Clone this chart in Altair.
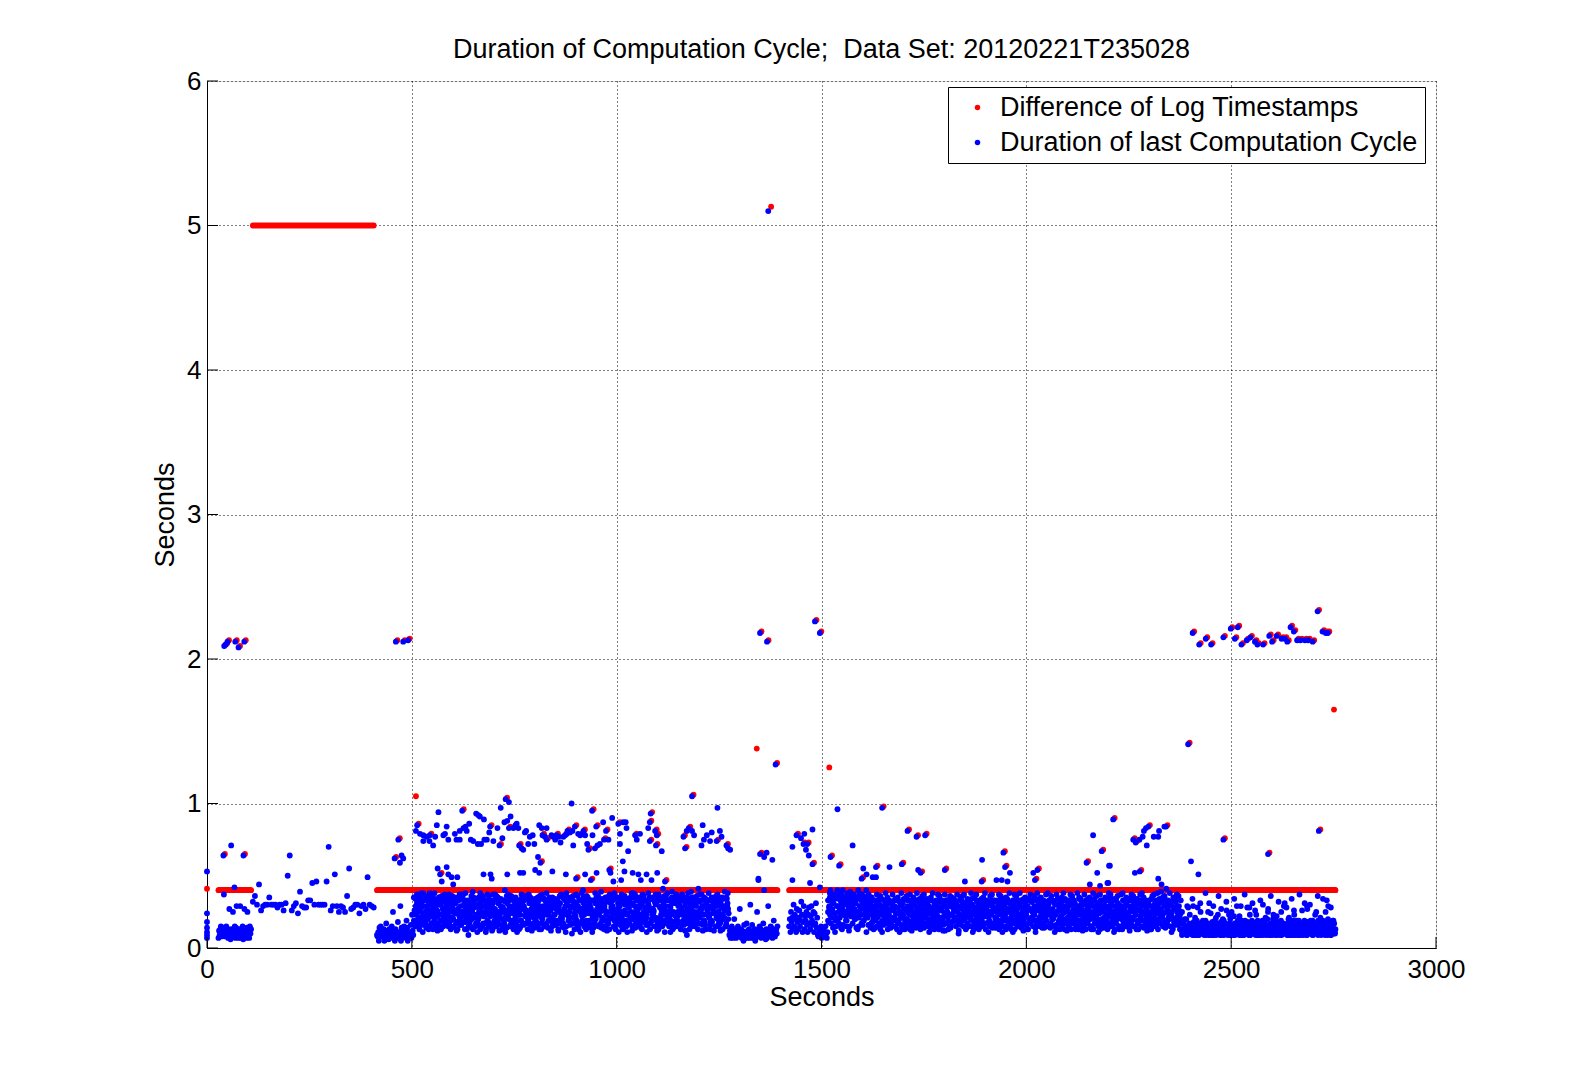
import altair as alt
import pandas as pd

TITLE = "Duration of Computation Cycle;\u00a0 Data Set: 20120221T235028"
SERIES = ["Difference of Log Timestamps", "Duration of last Computation Cycle"]
COLORS = ["#ff0000", "#0000ff"]
X_TICKS = [0, 500, 1000, 1500, 2000, 2500, 3000]
Y_TICKS = [0, 1, 2, 3, 4, 5, 6]
FONT = "Liberation Sans"

# Dense band of cycle durations, one letter per sample
# (lower-case letter -> value below, upper-case letter -> value 0.01 higher)
BAND_LETTERS = "abcdefghijklmnopqrs"
BAND_VALUES = [0.05, 0.07, 0.09, 0.11, 0.13, 0.15, 0.17, 0.19, 0.21, 0.23,
               0.25, 0.27, 0.29, 0.31, 0.33, 0.35, 0.37, 0.39, 0.41]
BAND_VALUES_UPPER = [0.06, 0.08, 0.10, 0.12, 0.14, 0.16, 0.18, 0.20, 0.22, 0.24,
                     0.26, 0.28, 0.30, 0.32, 0.34, 0.36, 0.38, 0.40, 0.42]

SEG_A = "bDcefBdcEqcBdfCebDlcAedBkcDfbEmcDbeCmbDcfAelCdbEkcDbfCe"
SEG_B = "cBdaEcfBdcBeaDcgBdcAebDcfBkdCaeBdcGbdCmaEcbDfcBdhEacBdcFbjDc"
SEG_C = ("hKfmJogLiekPnhFjmGkoEilHnfQjgMkeOhjLfnIkgpMhejOlfKigHnmJf"
         "lGoiEkmHfpJnkGeloIhmFkjqGneLhioKfmGjnHkepLifOjmgHkneLjfoI"
         "mJgdKohLfnIgkMeqJhlOfkGniDjmHokLfgRijEnkHmlOgfkJehNimGfoL"
         "eKjhOngFmlIkgPehJnoFlkMgiEohJfnLkmPgeiHjlOfkNgmEjhKoiLfgN"
         "jFhlMokDgnPijHfkElomQnjIkhFpmCogLjkInhFmeKgoJlhRnfKmePlgJ"
         "hMolFjkEignHplMfjOkgEinHlmKfjOghPeinLkmJfhOegKinLjmFhkEog"
         "nKfhJdomLgikQfnHjmEgolKihFjnMepGkoLhijFnmKegOhljKfiMnhGeq"
         "oGijKfmNldhPkjGofImhNrekGjoPfhImkNgelOjhFkmiNcgJlhoKfpMig"
         "kFjmHoegNilKqmFjhGoeNlkImjFhoGlnDkpJimHfkOgnLjeHmiKfgOnlJ")
SEG_C2 = ("gKjnHfmLiQhgJkMfnIlgHoKjfMnhIgLkjPfhMiKngJlhFqIkmGjnHlfKriMg"
          "jHlfNkgIoMhjKfLngIhOjkFmlHgNiKjfOhmLgkInJfhMlogKiHnjFkMlhIgo"
          "kIgmOfjLhnKiGmjFohLnkIgJmfOhkLgiNjHmfKolIgjNhkFmLoiHgjKnfMlh"
          "fLhjNgkPimHfKjlGnoIhkMfjLgnHiQkfJmgLhnIkjFoMglHjkNifOgLmhKjg"
          "mHkgLfoJnIhkGmlFjOnhKigMljHfNokIgjLmhFnKoiGhlJmfNkgIhOjlKfmH")
SEG_C3 = ("pOqpoQdoPoePopQoDpoPoqOoqePpoDpqOpoQecoPpoOdpQoPoeqPoDoqPpoOeodPqoPpOpdoEqoPpOqpDoOopePqOo"
          "QopDpoOoePqpOdpOooPeqPodQpoOpoEdoQpPorOepDpqOoQppdOqePoOopDpqOpoEqPodQpOpoqDeOpsPoQodpEpqO"
          "oPqoDpQerOpoPsqoDpOoQepOoPqoDpOrpQ")
SEG_D = "cDbefCbdHcebDcfBdlCebDcaFbdCgbDcebMdcFbdCeabDkcBdfCebDcgBdcAebDmcBdfEcbDhcBdeCf"
SEG_E = "fHdkGieMfjHdlGeiKfhNjdGmeIhkFdjLgeImhFkdJgnEicBdeCfbDceBdfCbd"
SEG_F = ("kGmpRiolEnqJhfpRmkOiqEnlRjpMkhfoQlnPrIkmOjqlHnEpkRimOljqFnhpKmRoilqJnEp"
         "jGmeKohLfnIkgMejOhlFkiGnmHejoKflGnihKmfJoeLghNkimFejOlhg"
         "fKmhJoeGlnIkfMhjEokGlinFmhKjoEglIknHfmJoekGlhInfKmjHoegL"
         "iKhnFmjDgoLkhInfEjmGokHlifNkmCjhGolInfkHjmEgoKlinHfjMkeg"
         "hJofKmeGnlIhkFjoMegLnkIhfMjoEkglNhiFkmJeohGlkInfMjehOkgl"
         "nFihKmoJegLkiNhfMjoEgkLhinFjmKeoGlhiNkfJmhEoglKnifHjmEko"
         "gLihNfkMjoEgkHliNfjMekOghLinKfmJheOglKinFhjMekOglHnifKjm"
         "eOhgLknIfjMheKogLinHkfJmeOghLinKfmJeoHgkLniFmjHekOglInfh"
         "kJmeOglHnifKjmHeoGlkInfHjmEkogLhiNkfMjeOhglKnifJmhEkogLi"
         "nHkfJmeOglHinKfmJeoHgklNifJmhEkogLinHfkJmeoGlhNikFjmHeog")
SEG_F2 = ("hLjgNkfOimHgKjlFnoIhkMfjLgnHiOkfJmgLhnIkjFoMglHjkNifOgLmhKjg"
          "gKjnHfmLiOhgJkMfnIlgHoKjfMnhIgLkjOfhMiKngJlhFoIkmGjnHlfKoiMg"
          "kIgmOfjLhnKiGmjFohLnkIgJmfOhkLgiNjHmfKolIgjNhkFmLoiHgjKnfMlh"
          "jHlfNkgIoMhjKfLngIhOjkFmlHgNiKjfOhmLgkInJfhMlogKiHnjFkMlhIgo"
          "mHkgLfoJnIhkGmlFjOnhKigMljHfNokIgjLmhFnKoiGhlJmfNkgIhOjlKfmH"
          "fLhjNgkOimHfKjlGnoIhkMfjLgnHiOkfJmgLhnIkjFoMglHjkNifOgLmhKjg")
SEG_F3 = ("oQpOdqPoePopDoqOpeQoPodqOpoEqoPdoQpoEqoOpdQoePoqDpoQoePqoOdpQeoqPoDqoePpOoqDpPqeOoQdpqEoOp"
          "QodPqoEoqPdOpoQedqPoQoDpeOqoPdQopoEqQoPodqOepQoDoqPoeQpoDqoOpeQoPdqoEpoQqOdoPeqQopoDqPOoe"
          "qQpoDoePqoQOrpPsoQdpOqPe")
SEG_G = ("cDegCfdHceLdgCfdEcmGdcEfhDcgEdkCfdGecDhfCegDncFdeGcdFhecDgjCfe"
         "dGceHdfCgdKecFdgHceDfcIgdeCfhDgcEmdFcgEdhCfdGecLcfDhgCedFcjGdce"
         "fDcgEhdCfgDceHkdFcgEdcHfdGceIdfCgdEhcFdgCnedFcgHdcEfgDchKdcEgf"
         "cDhgEcfDgcEhdFcmGdeCfhDgcEdfCgkDehCfdGceDhfCgdEocHdfGceDfhCgde")
SEG_G2 = ("dCefDcEdfCdeDcfEdcDefCdEcdFceDdcEfdCeDcfdEcDfeCdcEdfDceCfdEc"
          "eDcfCdEdcFdeCdfDcEefDcdCfeDcEdfCdeDcfEcdDfeCdEcfDdcEfCdeDcfd"
          "fCdeDcEfdCdcEeDfcdCEfdDceCdfEcDdeC")
SEG_G3 = "kHmjOiLnhQkJmiPlhNjkOmIhqLjnKhoMilPjhNkmLiOjhqKnlMhjPiOkmLh"

# (first timestamp s, last timestamp s, difference of log timestamps s, durations)
SEGMENTS = [
    (28, 109, 0.40, SEG_A),
    (415, 505, 0.40, SEG_B),
    (505, 1275, 0.40, SEG_C),
    (505, 1275, 0.40, SEG_C2),
    (505, 1275, 0.40, SEG_C3),
    (1275, 1394, 0.40, SEG_D),
    (1421, 1516, 0.40, SEG_E),
    (1516, 2380, 0.40, SEG_F),
    (1516, 2380, 0.40, SEG_F2),
    (1516, 2380, 0.40, SEG_F3),
    (2380, 2756, 0.40, SEG_G),
    (2380, 2756, 0.40, SEG_G2),
    (2380, 2756, 0.40, SEG_G3),
]

# Slow phase: one sample every 5 s, timestamp difference 5.0 s
SLOW_START = 112
SLOW_STEP = 5
SLOW_DIFF = 5.0
SLOW_DURATIONS = [0.32, 0.36, 0.30, 0.44, 0.26, 0.29, 0.30, 0.30, 0.35, 0.30,
                  0.30, 0.30, 0.28, 0.30, 0.30, 0.26, 0.31, 0.50, 0.64, 0.26,
                  0.29, 0.31, 0.24, 0.39, 0.29, 0.28, 0.28, 0.33, 0.33, 0.45,
                  0.30, 0.46, 0.30, 0.30, 0.30, 0.30, 0.46, 0.70, 0.26, 0.29,
                  0.51, 0.29, 0.25, 0.29, 0.28, 0.25, 0.36, 0.55, 0.27, 0.28,
                  0.30, 0.30, 0.24, 0.29, 0.30, 0.27, 0.49, 0.30, 0.29, 0.28]

# Long cycles seen in both series (timestamp s, seconds)
LONG_T = [42, 46, 50, 69, 77, 91, 40, 89, 461, 479, 491, 458, 467,
          513, 544, 569, 623, 691, 714, 729, 762, 814, 819, 829, 898, 901, 915, 931,
          940, 937, 950, 974, 982, 1004, 1045, 1081, 1083, 1081, 1094, 1098, 1096,
          1118, 1163, 1167, 1176, 1184, 1244, 1268, 737, 853, 874, 880, 919, 969,
          1350, 1388, 1439, 1456, 1465, 1478, 1522, 1543, 1598, 1633, 1648, 1696,
          1710, 1732, 1742, 1753, 1801, 1891, 1944, 1948, 2027, 2021, 2147, 2184,
          1350, 1367, 1484, 1496,
          2212, 2261, 2267, 2298, 2341, 2277, 2395, 2481, 2590, 2714,
          2406, 2422, 2438, 2451, 2481, 2499, 2509, 2516, 2525, 2538, 2547, 2558,
          2564, 2578, 2593, 2600, 2611, 2623, 2631, 2637, 2645, 2653, 2661, 2669,
          2680, 2688, 2699, 2711, 2723, 2731, 2736]
LONG_V = [2.09, 2.10, 2.12, 2.12, 2.08, 2.12, 0.64, 0.64, 2.12, 2.12, 2.13, 0.62, 0.75,
          0.85, 0.78, 0.51, 0.95, 0.84, 0.71, 1.03, 0.71, 0.59, 0.78, 0.75, 0.84, 0.48, 0.79, 0.68,
          0.95, 0.47, 0.84, 0.81, 0.54, 0.86, 0.78, 0.87, 0.93, 0.74, 0.81, 0.78, 0.71,
          0.46, 0.77, 0.69, 0.83, 1.05, 0.74, 0.71, 0.83, 0.78, 0.78, 0.81, 0.81, 0.75,
          0.65, 1.27, 0.78, 0.72, 0.72, 0.58, 0.63, 0.57, 0.48, 0.56, 0.97, 0.58,
          0.81, 0.77, 0.52, 0.78, 0.54, 0.46, 0.66, 0.56, 0.54, 0.47, 0.59, 0.67,
          2.18, 2.12, 2.26, 2.18,
          0.89, 0.75, 0.73, 0.84, 0.84, 0.53, 1.41, 0.75, 0.65, 0.81,
          2.18, 2.10, 2.14, 2.10, 2.15, 2.21, 2.14, 2.22, 2.10, 2.13, 2.15, 2.12,
          2.10, 2.10, 2.16, 2.12, 2.16, 2.14, 2.14, 2.12, 2.22, 2.19, 2.13, 2.13,
          2.13, 2.13, 2.12, 2.33, 2.19, 2.18, 2.18]

# Cycle durations seen only in the blue series (timestamp s, seconds)
BLUE_T = [0, 0, 0, 0, 0, 0, 0, 59, 67, 471, 479, 475,
          510, 520, 528, 536, 528, 543, 552, 557, 565, 561, 563, 573, 577, 581, 585,
          585, 589, 589, 597, 601, 605, 609, 611, 617, 617, 626, 631, 634, 640, 644,
          650, 657, 662, 666, 661, 669, 676, 677, 683, 675, 689, 692, 695, 699, 709,
          717, 721, 726, 737, 733, 733, 741, 748, 753, 756, 760, 768, 772, 764, 772,
          776, 779, 784, 788, 795, 799, 801, 808, 811, 811, 817, 825, 829, 841, 843,
          845, 850, 858, 863, 870, 876, 878, 886, 890, 892, 894, 906, 911, 923, 923,
          928, 941, 947, 953, 951, 959, 967, 980, 985, 989, 992, 1008, 1008, 1011,
          1015, 1016, 1019, 1022, 1028, 1024, 1039, 1049, 1053, 1057, 1059, 1077,
          1073, 1085, 1099, 1110, 1171, 1184, 1189, 1210, 1207, 1213, 1220, 1232,
          1228, 1246, 1252, 1256, 1272, 1277, 1346,
          1370, 1539, 1346, 1360, 1366, 1380, 1360, 1429, 1450, 1458, 1462, 1469,
          1478, 1429, 1472, 1496, 1576, 1602, 1610, 1625, 1633, 1666, 1736, 1892,
          1960, 1940, 1954, 1927, 2017, 2163, 2173, 2202, 2198, 2155, 2180, 1850,
          2276, 2284, 2287, 2292, 2294, 2311, 2322, 2324, 2337, 2204, 2265, 2322,
          2200, 2330, 2402, 2420]
BLUE_V = [0.53, 0.24, 0.18, 0.14, 0.11, 0.09, 0.07, 0.71, 0.42, 0.59, 0.62, 0.64,
          0.81, 0.79, 0.78, 0.77, 0.74, 0.74, 0.71, 0.77, 0.94, 0.85, 0.55, 0.46, 0.78, 0.79, 0.84,
          0.56, 0.51, 0.75, 0.49, 0.44, 0.79, 0.75, 0.49, 0.75, 0.81, 0.83, 0.84, 0.81, 0.86, 0.75,
          0.74, 0.93, 0.92, 0.91, 0.72, 0.72, 0.89, 0.75, 0.75, 0.51, 0.80, 0.51, 0.48, 0.74, 0.83,
          0.97, 0.76, 0.87, 1.01, 0.51, 0.88, 0.91, 0.83, 0.85, 0.86, 0.83, 0.69, 0.68, 0.52, 0.52,
          0.80, 0.81, 0.72, 0.77, 0.78, 0.72, 0.54, 0.63, 0.85, 0.52, 0.83, 0.77, 0.83, 0.78, 0.53,
          0.77, 0.75, 0.77, 0.73, 0.77, 0.51, 0.79, 0.80, 1.00, 0.81, 0.71, 0.79, 0.78, 0.51, 0.78,
          0.72, 0.78, 0.69, 0.71, 0.52, 0.72, 0.87, 0.75, 0.52, 0.90, 0.46, 0.79, 0.72, 0.47,
          0.60, 0.87, 0.53, 0.87, 0.67, 0.83, 0.52, 0.75, 0.51, 0.79, 0.47, 0.83,
          0.51, 0.47, 0.52, 0.67, 0.81, 0.81, 0.78, 0.85, 0.71, 0.75, 0.78, 0.80,
          0.74, 0.97, 0.81, 0.77, 0.69, 0.68, 0.48,
          5.10, 0.96, 0.47, 0.63, 0.66, 0.61, 0.40, 0.70, 0.76, 0.79, 0.68, 0.64,
          0.82, 0.47, 0.45, 0.42, 0.71, 0.55, 0.51, 0.49, 0.49, 0.56, 0.54, 0.61,
          0.52, 0.47, 0.46, 0.47, 0.52, 0.78, 0.52, 0.57, 0.45, 0.44, 0.43, 0.46,
          0.75, 0.77, 0.81, 0.83, 0.71, 0.77, 0.77, 0.81, 0.84, 0.57, 0.52, 0.48,
          0.45, 0.44, 0.60, 0.51]

# Timestamp differences seen only in the red series (timestamp s, seconds)
RED_T = [0, 510, 1342, 1377, 1519, 2751]
RED_V = [0.41, 1.05, 1.38, 5.13, 1.25, 1.65]


def band_value(ch):
    k = BAND_LETTERS.index(ch.lower())
    return BAND_VALUES_UPPER[k] if ch.isupper() else BAND_VALUES[k]


red_rows, blue_rows, red_long_rows = [], [], []
for start, end, diff, letters in SEGMENTS:
    n = len(letters)
    for i, ch in enumerate(letters):
        t = start + (end - start) * i / n
        red_rows.append({"t": t, "v": diff, "series": SERIES[0]})
        blue_rows.append({"t": t, "v": band_value(ch), "series": SERIES[1]})
for i, d in enumerate(SLOW_DURATIONS):
    t = SLOW_START + i * SLOW_STEP
    red_rows.append({"t": t, "v": SLOW_DIFF, "series": SERIES[0]})
    blue_rows.append({"t": t, "v": d, "series": SERIES[1]})
for t, v in zip(RED_T, RED_V):
    red_rows.append({"t": t, "v": v, "series": SERIES[0]})
for t, v in zip(LONG_T, LONG_V):
    red_long_rows.append({"t": t, "v": v, "series": SERIES[0]})
    blue_rows.append({"t": t, "v": v, "series": SERIES[1]})
for t, v in zip(BLUE_T, BLUE_V):
    blue_rows.append({"t": t, "v": v, "series": SERIES[1]})

red_df = pd.DataFrame(red_rows)
red_long_df = pd.DataFrame(red_long_rows)
blue_df = pd.DataFrame(blue_rows)
xt_df = pd.DataFrame({"t": X_TICKS})
yt_df = pd.DataFrame({"v": Y_TICKS})

W, H = 1229, 867

grid_kw = dict(grid=True, gridColor="black", gridDash=[1, 3], gridWidth=1, gridOpacity=1,
               domainColor="black", domainWidth=1, tickSize=0, labelColor="black",
               labelFontSize=26, labelFont=FONT, labelOverlap=False, titleFont=FONT,
               titleFontSize=27, titleFontWeight="normal", titleColor="black",
               titleBaseline="alphabetic", format="d")
x_axis = alt.Axis(values=X_TICKS, title="Seconds", labelPadding=8, labelFlush=False,
                  titleY=57, **grid_kw)
y_axis = alt.Axis(values=Y_TICKS, title="Seconds", labelPadding=6, titleX=-34, **grid_kw)

xs = alt.Scale(domain=[0, 3000], nice=False, zero=False)
ys = alt.Scale(domain=[0, 6], nice=False, zero=False)
X = alt.X("t:Q", scale=xs, axis=x_axis)
Y = alt.Y("v:Q", scale=ys, axis=y_axis)

legend = alt.Legend(title=None, orient="none", legendX=741, legendY=6, direction="vertical",
                    fillColor="white", strokeColor="black", padding=7, cornerRadius=0,
                    symbolType="circle", symbolSize=30, symbolOffset=9, labelOffset=9,
                    labelFontSize=27, labelFont=FONT, labelColor="black", rowPadding=7,
                    labelLimit=700, symbolOpacity=1, symbolStrokeWidth=0)
C = alt.Color("series:N", scale=alt.Scale(domain=SERIES, range=COLORS), legend=legend)

pt = dict(shape="circle", filled=True, size=34, opacity=1)

red_layer = alt.Chart(red_df).mark_point(**pt).encode(x=X, y=Y, color=C)
red_long_layer = alt.Chart(red_long_df).mark_point(xOffset=1.5, yOffset=-1.5, **pt).encode(
    x=X, y=Y, color=C)
blue_layer = alt.Chart(blue_df).mark_point(**pt).encode(x=X, y=Y, color=C)

xtick_layer = alt.Chart(xt_df).mark_rule(color="black", strokeWidth=1).encode(
    x=X, y=alt.value(H), y2=alt.value(H - 11))
ytick_layer = alt.Chart(yt_df).mark_rule(color="black", strokeWidth=1).encode(
    y=Y, x=alt.value(0), x2=alt.value(11))

chart = alt.layer(red_layer, red_long_layer, blue_layer, xtick_layer, ytick_layer).properties(
    width=W, height=H,
    title=alt.TitleParams(TITLE, fontSize=27, font=FONT, fontWeight="normal", color="black",
                          anchor="middle", baseline="alphabetic", offset=-17),
    padding={"left": 199, "top": 73, "right": 138, "bottom": 100},
    autosize=alt.AutoSizeParams(type="none"),
).configure_view(strokeWidth=0).configure(background="white")

chart.save("out.html", embed_options={"renderer": "svg", "actions": False})
